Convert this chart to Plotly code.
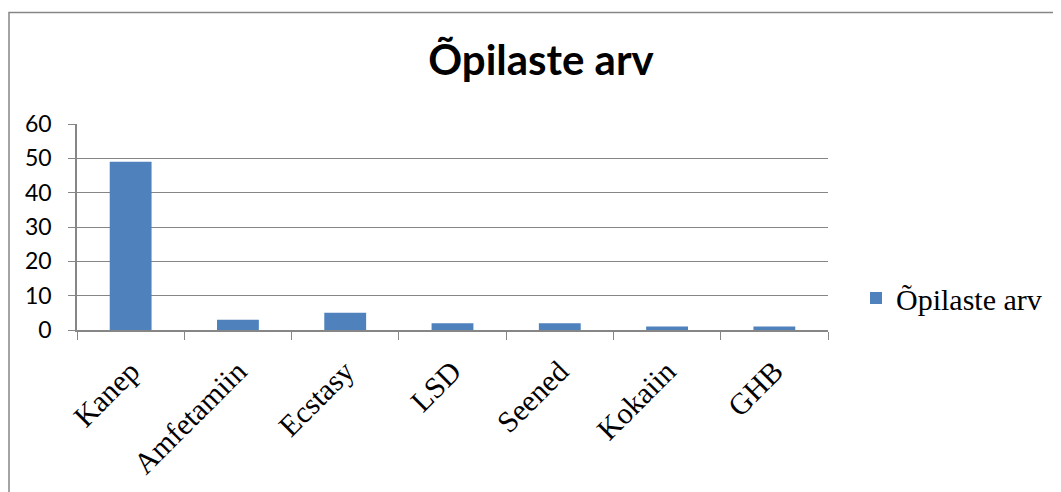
import plotly.graph_objects as go

categories = ["Kanep", "Amfetamiin", "Ecstasy", "LSD", "Seened", "Kokaiin", "GHB"]
values = [49, 3, 5, 2, 2, 1, 1]
series_name = "Õpilaste arv"
title_text = "Õpilaste arv"
y_ticks = [0, 10, 20, 30, 40, 50, 60]

# page is rendered with an 8px body margin; work in page pixels and compensate
OFF = 8
W, H = 1061, 492
PL, PR, PT, PB = 77, 828, 124, 330          # plot area in page pixels
L, T = PL - OFF, PT - OFF
pw, ph = PR - PL, PB - PT
R = W - L - pw
B = H - T - ph

def px_x(p):
    return (p - PL) / pw

def px_y(p):
    return (PB - p) / ph

fig = go.Figure()
fig.add_trace(go.Bar(
    x=categories, y=values, name=series_name,
    marker=dict(color="#4F81BD", line=dict(width=0)),
    showlegend=True,
))

grid = "#868686"
fig.update_layout(
    width=W, height=H,
    margin=dict(l=L, r=R, t=T, b=B, autoexpand=False),
    paper_bgcolor="white", plot_bgcolor="white",
    bargap=0.61,
    title=dict(text="<b>" + title_text + "</b>", x=(541 - OFF) / W, xanchor="center",
               y=1 - (60 - OFF) / H, yanchor="middle",
               font=dict(family="Lato, Open Sans, sans-serif", size=42, color="black")),
    xaxis=dict(
        type="category", tickson="boundaries", ticks="outside", ticklen=8,
        tickcolor=grid, showline=True, linecolor=grid, linewidth=1.5,
        tickangle=-45, showgrid=False, ticklabelstandoff=10,
        tickfont=dict(family="Liberation Serif, Times New Roman, serif", size=30, color="black"),
    ),
    yaxis=dict(
        range=[0, 60], tickvals=y_ticks, ticks="outside", ticklen=7, tickcolor=grid,
        showline=True, linecolor=grid, linewidth=1.5, ticklabelstandoff=12,
        showgrid=True, gridcolor=grid, gridwidth=1, zeroline=False,
        tickfont=dict(family="Lato, Open Sans, sans-serif", size=23, color="black"),
    ),
    legend=dict(x=px_x(856), y=px_y(298), xanchor="left", yanchor="middle",
                font=dict(family="Liberation Serif, Times New Roman, serif", size=30, color="black"),
                bgcolor="rgba(0,0,0,0)", itemwidth=30),
    showlegend=True,
)

# chart-area border (outer frame)
fig.add_shape(type="rect", xref="paper", yref="paper",
              x0=px_x(OFF + 1), x1=px_x(1075), y0=px_y(505), y1=px_y(12.5),
              line=dict(color="#868686", width=1.5), fillcolor="rgba(0,0,0,0)", layer="below")

fig.write_html("out.html")
